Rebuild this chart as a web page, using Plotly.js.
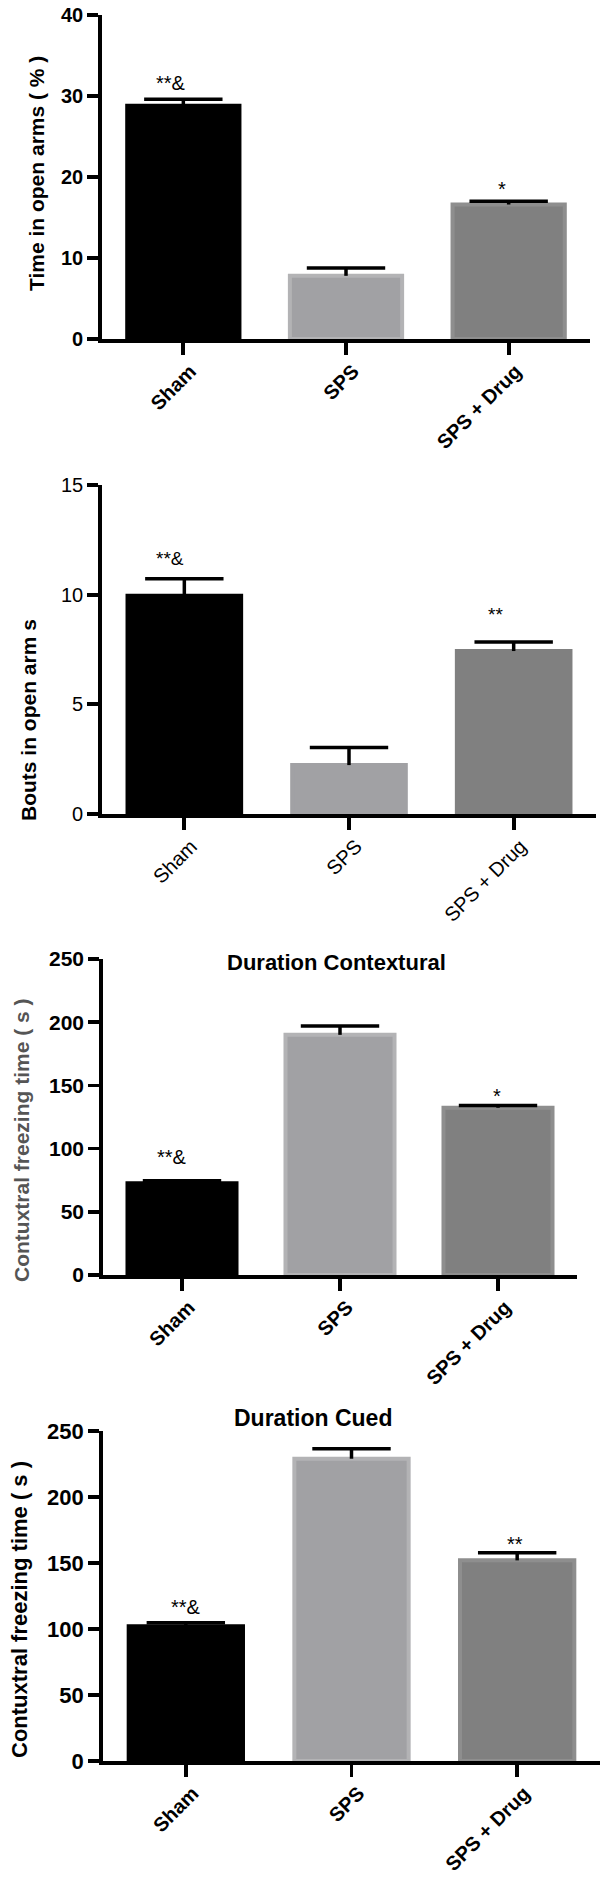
<!DOCTYPE html>
<html><head><meta charset="utf-8">
<script src="https://cdn.plot.ly/plotly-3.0.1.min.js"></script>
<style>html,body{margin:0;padding:0;background:#fff}</style>
</head><body><div id="chart" style="width:600px;height:1882px"></div>
<script>
// ---- data ----
const groups = ['Sham', 'SPS', 'SPS + Drug'];

const timeOpenArms    = [28.8, 7.8, 16.6];
const timeOpenArmsErr = [0.8, 0.95, 0.4];
const timeOpenArmsSig = ['**&', '', '*'];

const boutsOpenArms    = [9.95, 2.23, 7.43];
const boutsOpenArmsErr = [0.78, 0.8, 0.41];
const boutsOpenArmsSig = ['**&', '', '**'];

const contextFreeze    = [72.6, 190, 132.3];
const contextFreezeErr = [2.0, 7.0, 1.8];
const contextFreezeSig = ['**&', '', '*'];

const cuedFreeze    = [102, 229, 152];
const cuedFreezeErr = [2.8, 7.6, 5.8];
const cuedFreezeSig = ['**&', '', '**'];

const yTicks1 = [0, 10, 20, 30, 40];
const yTicks2 = [0, 5, 10, 15];
const yTicks3 = [0, 50, 100, 150, 200, 250];
const yTicks4 = [0, 50, 100, 150, 200, 250];

// ---- styling / layout ----
const W = 600, H = 1882;
const FONT = 'Liberation Sans, Arial, Helvetica, sans-serif';
const fillColors = ['#000000', '#a1a1a4', '#808080'];
const edgeColors = ['#000000', '#b3b3b5', '#8e8e8e'];

const panels = [
  {vals: timeOpenArms, err: timeOpenArmsErr, sig: timeOpenArmsSig, ticks: yTicks1,
   x0: 102, x1: 590, yTop: 15, yBot: 339, bold: true, tickSize: 20, xTickSize: 20,
   yTitle: 'Time in open arms ( % )', yTitleColor: '#000', yTitleSize: 21, yTitleX: 37, yTitleY: 174,
   title: null, sigSize: 20, sigShift: [[-12, 3], [-7, -1]], edge: true},
  {vals: boutsOpenArms, err: boutsOpenArmsErr, sig: boutsOpenArmsSig, ticks: yTicks2,
   x0: 102, x1: 596, yTop: 485, yBot: 814, bold: false, tickSize: 20, xTickSize: 20,
   yTitle: 'Bouts in open arm s', yTitleColor: '#000', yTitleSize: 21, yTitleX: 28, yTitleY: 720,
   title: null, sigSize: 19, sigShift: [[-14, 8], [-18, 15]], edge: false},
  {vals: contextFreeze, err: contextFreezeErr, sig: contextFreezeSig, ticks: yTicks3,
   x0: 103, x1: 577, yTop: 959, yBot: 1275, bold: true, tickSize: 21, xTickSize: 20,
   yTitle: 'Contuxtral freezing time ( s )', yTitleColor: '#555555', yTitleSize: 21, yTitleX: 21, yTitleY: 1140,
   title: 'Duration Contextural', titleX: 336, titleY: 962, titleSize: 22,
   sigSize: 20, sigShift: [[-10, 11], [-1, -3]], edge: true},
  {vals: cuedFreeze, err: cuedFreezeErr, sig: cuedFreezeSig, ticks: yTicks4,
   x0: 103, x1: 600, yTop: 1431, yBot: 1761, bold: true, tickSize: 22, xTickSize: 20,
   yTitle: 'Contuxtral freezing time ( s )', yTitleColor: '#000', yTitleSize: 22, yTitleX: 19, yTitleY: 1610,
   title: 'Duration Cued', titleX: 313, titleY: 1418, titleSize: 23,
   sigSize: 20, sigShift: [[0, 3], [-2, -4]], edge: true}
];

const px = v => v / W;
const py = v => 1 - v / H;

const data = [];
const layout = {
  width: W, height: H, margin: {l: 0, r: 0, t: 0, b: 0},
  paper_bgcolor: '#fff', plot_bgcolor: 'rgba(0,0,0,0)',
  showlegend: false, bargap: 0, annotations: []
};

panels.forEach((p, i) => {
  const n = i + 1;
  const xa = n === 1 ? 'x' : 'x' + n;
  const ya = n === 1 ? 'y' : 'y' + n;
  const wrap = s => p.bold ? '<b>' + s + '</b>' : s;
  const tops = p.vals.map((v, k) => v + p.err[k]);

  // bars with the error stem (no caps)
  data.push({
    type: 'bar', x: groups, y: p.vals, xaxis: xa, yaxis: ya, width: 0.69,
    marker: {color: fillColors, line: {color: p.edge ? edgeColors : fillColors, width: 4}},
    error_y: {type: 'data', symmetric: false, array: p.err, arrayminus: [0, 0, 0],
              color: '#000', thickness: 3.5, width: 0},
    hoverinfo: 'skip'
  });
  // upper caps of the error bars only
  data.push({
    type: 'scatter', mode: 'markers', x: groups, y: tops, xaxis: xa, yaxis: ya,
    marker: {symbol: 'line-ew', size: 56, color: '#000', line: {color: '#000', width: 3.5}},
    hoverinfo: 'skip', cliponaxis: false
  });

  const ymax = p.ticks[p.ticks.length - 1];
  layout['xaxis' + (n === 1 ? '' : n)] = {
    type: 'category', range: [-0.5, 2.5], domain: [px(p.x0), px(p.x1)], anchor: ya,
    showline: true, linecolor: '#000', linewidth: 3.8, showgrid: false, zeroline: false,
    ticks: 'outside', ticklen: 12, tickwidth: 3.8, tickcolor: '#000', tickangle: -45,
    ticklabelshift: 7, ticklabelstandoff: -3,
    tickvals: groups, ticktext: groups.map(wrap),
    tickfont: {family: FONT, size: p.xTickSize, color: '#000'}, fixedrange: true
  };
  layout['yaxis' + (n === 1 ? '' : n)] = {
    range: [0, ymax], domain: [py(p.yBot), py(p.yTop)], anchor: xa,
    showline: true, linecolor: '#000', linewidth: 3.8, showgrid: false, zeroline: false,
    ticks: 'outside', ticklen: 11, tickwidth: 3.8, tickcolor: '#000',
    tickvals: p.ticks, ticktext: p.ticks.map(t => wrap(String(t))),
    tickfont: {family: FONT, size: p.tickSize, color: '#000'}, fixedrange: true
  };

  // y-axis title
  layout.annotations.push({
    xref: 'paper', yref: 'paper', x: px(p.yTitleX), y: py(p.yTitleY),
    text: '<b>' + p.yTitle + '</b>', textangle: -90, showarrow: false,
    xanchor: 'center', yanchor: 'middle',
    font: {family: FONT, size: p.yTitleSize, color: p.yTitleColor}
  });
  // panel title
  if (p.title) {
    layout.annotations.push({
      xref: 'paper', yref: 'paper', x: px(p.titleX), y: py(p.titleY),
      text: '<b>' + p.title + '</b>', showarrow: false, xanchor: 'center', yanchor: 'middle',
      font: {family: FONT, size: p.titleSize, color: '#000'}
    });
  }
  // significance marks
  const shifts = {0: p.sigShift[0], 2: p.sigShift[1]};
  p.sig.forEach((s, k) => {
    if (!s) return;
    const sh = shifts[k] || [0, 0];
    layout.annotations.push({
      xref: xa, yref: ya, x: groups[k], y: tops[k],
      text: s, showarrow: false, xanchor: 'center', yanchor: 'bottom',
      xshift: sh[0], yshift: sh[1],
      font: {family: FONT, size: p.sigSize, color: '#000'}
    });
  });
});

Plotly.newPlot('chart', data, layout, {displayModeBar: false, staticPlot: true});
</script>
</body></html>
